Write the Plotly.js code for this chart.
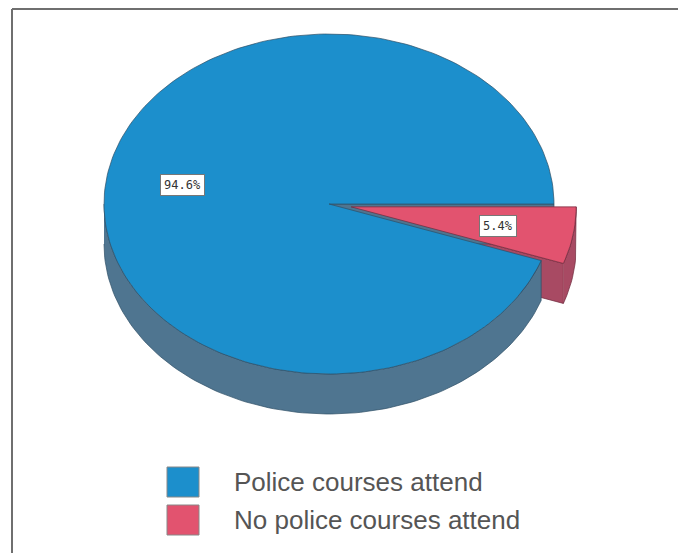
<!DOCTYPE html>
<html>
<head>
<meta charset="utf-8">
<script src="https://cdn.plot.ly/plotly-3.0.1.min.js"></script>
<style>html,body{margin:0;padding:0;background:#fff;}#chart{width:678px;height:553px;}</style>
</head>
<body>
<div id="chart"></div>
<script>
// Data
const categories = ["Police courses attend", "No police courses attend"];
const percentages = [94.6, 5.4];
const exploded = [false, true];

// Style
const topColors = ["#1c8fcc", "#e2536f"];
const sideColors = ["#4f7590", "#a84a63"];
const edgeColors = ["#2e4f66", "#6e2a3c"];

// Geometry (pixel space of the page)
const CX = 329, CY = 204, RX = 225, RY = 170, DEPTH = 40, EXPLODE = 0.1;

function pt(cx, cy, deg, r) {
  const t = deg * Math.PI / 180;
  return [cx + RX * r * Math.cos(t), cy - RY * r * Math.sin(t)];
}
function arc(cx, cy, a0, a1, dy) {
  const n = Math.max(4, Math.ceil(Math.abs(a1 - a0) / 1.5));
  const xs = [], ys = [];
  for (let i = 0; i <= n; i++) {
    const a = a0 + (a1 - a0) * i / n;
    const p = pt(cx, cy, a, 1);
    xs.push(p[0]); ys.push(p[1] + dy);
  }
  return [xs, ys];
}
function poly(xs, ys, fill, line) {
  return {type: "scatter", mode: "lines", x: xs, y: ys, fill: "toself",
    fillcolor: fill, line: {color: line, width: 0.7}, hoverinfo: "skip", showlegend: false};
}

const total = percentages.reduce((a, b) => a + b, 0);
const slices = [];
{
  let start = 0;
  percentages.forEach((v, i) => {
    const sweep = v / total * 360;
    const mid = start + sweep / 2;
    const off = exploded[i] ? pt(0, 0, mid, EXPLODE) : [0, 0];
    slices.push({i: i, a0: start, a1: start + sweep, mid: mid, cx: CX + off[0], cy: CY + off[1], exploded: exploded[i]});
    start += sweep;
  });
}

function cutFaces(s) {
  const out = [];
  [s.a0, s.a1].forEach((a, j) => {
    const p = pt(s.cx, s.cy, a, 1);
    const normal = j === 0 ? a - 90 : a + 90;
    const ny = -Math.sin(normal * Math.PI / 180);
    if (ny > 0.01) {
      out.push(poly([s.cx, p[0], p[0], s.cx], [s.cy, p[1], p[1] + DEPTH, s.cy + DEPTH], sideColors[s.i], edgeColors[s.i]));
    }
  });
  return out;
}
function outerWalls(s) {
  const out = [];
  [[180, 360], [540, 720]].forEach(r => {
    const lo = Math.max(s.a0, r[0]), hi = Math.min(s.a1, r[1]);
    if (hi > lo) {
      const top = arc(s.cx, s.cy, lo, hi, 0);
      const bot = arc(s.cx, s.cy, hi, lo, DEPTH);
      out.push(poly(top[0].concat(bot[0]), top[1].concat(bot[1]), sideColors[s.i], edgeColors[s.i]));
    }
  });
  return out;
}
function topFace(s) {
  const t = arc(s.cx, s.cy, s.a0, s.a1, 0);
  return poly([s.cx].concat(t[0]).concat([s.cx]), [s.cy].concat(t[1]).concat([s.cy]), topColors[s.i], edgeColors[s.i]);
}

const traces = [];
const annotations = [];
// exploded slices' cut faces sit behind the main body
slices.filter(s => s.exploded).forEach(s => cutFaces(s).forEach(t => traces.push(t)));
slices.filter(s => !s.exploded).forEach(s => {
  outerWalls(s).forEach(t => traces.push(t));
  cutFaces(s).forEach(t => traces.push(t));
  traces.push(topFace(s));
});
slices.filter(s => s.exploded).forEach(s => {
  outerWalls(s).forEach(t => traces.push(t));
  traces.push(topFace(s));
});
slices.forEach(s => {
  const lp = pt(s.cx, s.cy, s.mid, 0.66);
  annotations.push({x: lp[0], y: lp[1], xref: "x", yref: "y", showarrow: false,
    text: percentages[s.i].toFixed(1) + "%",
    font: {family: "DejaVu Sans Mono", size: 12, color: "#333"},
    bgcolor: "#ffffff", bordercolor: "#777", borderwidth: 1, borderpad: 3});
});

// frame and legend
const shapes = [
  {type: "line", xref: "x", yref: "y", x0: 12, x1: 678, y0: 9, y1: 9, line: {color: "#6f6f6f", width: 2}},
  {type: "line", xref: "x", yref: "y", x0: 12, x1: 12, y0: 9, y1: 553, line: {color: "#6f6f6f", width: 2}}
];
const legY = [482, 520];
categories.forEach((c, k) => {
  shapes.push({type: "rect", xref: "x", yref: "y", x0: 167, x1: 199, y0: legY[k] - 15, y1: legY[k] + 15,
    fillcolor: topColors[k], line: {color: "#888", width: 1}});
  annotations.push({x: 232, y: legY[k], xref: "x", yref: "y", xanchor: "left", yanchor: "middle",
    showarrow: false, text: c, font: {family: "Liberation Sans, Arial", size: 26, color: "#555"}});
});

const layout = {
  width: 678, height: 553,
  margin: {l: 0, r: 0, t: 0, b: 0},
  paper_bgcolor: "#ffffff", plot_bgcolor: "#ffffff",
  xaxis: {range: [0, 678], visible: false, fixedrange: true},
  yaxis: {range: [553, 0], visible: false, fixedrange: true},
  shapes: shapes, annotations: annotations, showlegend: false
};
Plotly.newPlot("chart", traces, layout, {staticPlot: true, displayModeBar: false});
</script>
</body>
</html>
